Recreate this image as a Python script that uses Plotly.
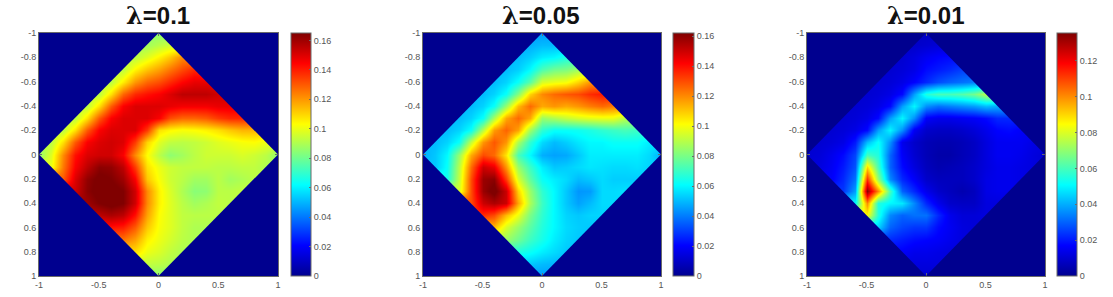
import plotly.graph_objects as go

# Values in thousandths, one list per row of a 0.1 grid inside the diamond |x|+|y|<=1.
# Row k (y = -1 + 0.1 k) runs from x = -(1-|y|) to x = 1-|y|.
grid = [round(-1 + 0.1 * i, 1) for i in range(21)]

titles = ["0.1", "0.05", "0.01"]
zmax = [0.165, 0.162, 0.1356]
cb_ticks = [
    [0, 0.02, 0.04, 0.06, 0.08, 0.1, 0.12, 0.14, 0.16],
    [0, 0.02, 0.04, 0.06, 0.08, 0.1, 0.12, 0.14, 0.16],
    [0, 0.02, 0.04, 0.06, 0.08, 0.1, 0.12],
]
axis_y_ticks = [-1, -0.8, -0.6, -0.4, -0.2, 0, 0.2, 0.4, 0.6, 0.8, 1]
axis_x_ticks = [-1, -0.5, 0, 0.5, 1]

lambda_01 = [
    [85],
    [88, 92, 95],
    [92, 98, 105, 112, 122],
    [92, 104, 112, 118, 125, 132, 138],
    [92, 106, 120, 128, 132, 138, 144, 148, 148],
    [92, 108, 128, 138, 142, 145, 150, 155, 155, 155, 152],
    [92, 108, 130, 145, 150, 150, 150, 148, 146, 146, 146, 148, 148],
    [92, 108, 130, 145, 150, 150, 150, 145, 132, 128, 128, 130, 135, 138, 138],
    [92, 108, 130, 145, 150, 150, 150, 135, 108, 104, 102, 103, 105, 108, 112, 115, 115],
    [92, 108, 130, 145, 150, 152, 150, 135, 110, 98, 93, 92, 93, 95, 98, 100, 102, 103, 100],
    [85, 98, 122, 142, 150, 152, 152, 145, 122, 103, 92, 85, 88, 92, 95, 95, 95, 97, 95, 92, 85],
    [100, 125, 145, 155, 163, 162, 155, 135, 108, 100, 95, 93, 93, 93, 92, 92, 93, 93, 90],
    [130, 150, 162, 167, 165, 160, 145, 112, 102, 95, 92, 88, 88, 92, 88, 90, 92],
    [152, 163, 168, 168, 165, 152, 122, 105, 97, 90, 84, 85, 92, 92, 93],
    [160, 165, 168, 165, 152, 122, 105, 98, 92, 88, 90, 93, 92],
    [155, 158, 155, 142, 118, 103, 98, 93, 92, 92, 92],
    [142, 140, 130, 112, 102, 98, 93, 90, 90],
    [125, 118, 105, 100, 96, 92, 90],
    [108, 100, 97, 93, 90],
    [93, 92, 90],
    [85],
]
lambda_005 = [
    [45],
    [48, 50, 50],
    [50, 53, 58, 60, 65],
    [50, 53, 60, 72, 78, 80, 85],
    [50, 54, 62, 75, 95, 98, 100, 108, 118],
    [50, 54, 62, 82, 108, 120, 125, 128, 130, 135, 138],
    [50, 54, 62, 85, 112, 125, 115, 118, 115, 118, 122, 125, 122],
    [50, 54, 62, 88, 115, 125, 115, 85, 88, 92, 95, 97, 98, 98, 90],
    [50, 54, 62, 90, 117, 126, 116, 86, 68, 62, 62, 63, 65, 68, 70, 72, 70],
    [50, 54, 62, 92, 118, 128, 118, 88, 68, 55, 50, 53, 57, 60, 60, 62, 62, 62, 58],
    [48, 52, 60, 85, 115, 130, 125, 105, 72, 60, 48, 46, 47, 52, 58, 58, 58, 58, 58, 55, 48],
    [52, 62, 90, 125, 150, 145, 118, 85, 70, 58, 52, 53, 55, 57, 56, 55, 55, 56, 54],
    [64, 92, 130, 158, 160, 132, 95, 76, 62, 58, 55, 50, 52, 55, 53, 53, 53],
    [95, 130, 158, 165, 150, 108, 85, 68, 60, 52, 44, 45, 55, 55, 56],
    [130, 150, 155, 150, 115, 88, 70, 60, 52, 46, 50, 55, 55],
    [135, 130, 112, 98, 80, 68, 60, 54, 52, 54, 54],
    [112, 95, 85, 75, 66, 60, 55, 53, 52],
    [85, 78, 70, 64, 58, 54, 52],
    [65, 62, 58, 55, 52],
    [52, 50, 49],
    [45],
]
lambda_001 = [
    [8],
    [9, 10, 11],
    [10, 12, 15, 17, 18],
    [10, 11, 13, 18, 20, 22, 25],
    [10, 11, 13, 17, 22, 27, 30, 32, 34],
    [10, 11, 13, 18, 38, 55, 60, 60, 62, 66, 75],
    [10, 11, 13, 18, 38, 50, 36, 32, 34, 36, 38, 42, 40],
    [10, 11, 13, 18, 38, 50, 36, 16, 14, 14, 15, 16, 18, 22, 22],
    [10, 11, 13, 18, 38, 50, 36, 15, 9, 8, 8, 9, 11, 14, 17, 18, 16],
    [10, 11, 13, 20, 42, 52, 36, 14, 9, 6, 5, 5, 6, 8, 12, 15, 15, 15, 13],
    [10, 11, 14, 18, 26, 60, 55, 30, 16, 10, 6, 4, 4, 6, 8, 12, 15, 15, 14, 12, 10],
    [12, 15, 20, 28, 90, 60, 30, 18, 12, 7, 5, 6, 7, 9, 12, 14, 14, 13, 12],
    [16, 22, 32, 112, 70, 35, 22, 16, 9, 7, 7, 7, 9, 13, 14, 14, 13],
    [24, 38, 134, 100, 60, 30, 22, 14, 9, 7, 5, 7, 13, 14, 14],
    [50, 100, 55, 50, 48, 35, 22, 14, 9, 8, 8, 12, 12],
    [85, 55, 35, 30, 32, 32, 22, 14, 11, 11, 12],
    [45, 30, 26, 24, 24, 18, 15, 12, 11],
    [22, 20, 18, 17, 16, 14, 12],
    [16, 14, 14, 13, 12],
    [12, 12, 12],
    [10],
]
panels = [lambda_01, lambda_005, lambda_001]

# Pixel boxes of the three panels and colour bars
W, H = 1113, 297
plot_px = [(39, 278), (423, 661), (807, 1045)]
cbar_px = [(291, 311), (673, 694), (1057, 1077)]
top_px, bottom_px = 33, 276
title_cx = [158, 541, 926]

JET = [
    [0.0, "#00008F"], [0.125, "#0000FF"], [0.375, "#00FFFF"],
    [0.625, "#FFFF00"], [0.875, "#FF0000"], [1.0, "#800000"],
]
GREY = "#555555"
FRAME = "#6a6a6a"


def full_matrix(rows):
    """Place the diamond rows on the square grid; outside cells repeat the row's edge
    value (they are hidden by the corner masks) so the smoothing keeps a clean edge."""
    out = []
    for row in rows:
        pad = (len(grid) - len(row)) // 2
        out.append([v / 1000 for v in [row[0]] * pad + row + [row[-1]] * pad])
    return out


fig = go.Figure()
for i, rows in enumerate(panels):
    suffix = "" if i == 0 else str(i + 1)
    fig.add_trace(go.Heatmap(
        x=grid, y=grid, z=full_matrix(rows),
        xaxis="x" + suffix, yaxis="y" + suffix,
        zmin=0, zmax=zmax[i], zsmooth="best", colorscale=JET,
        colorbar=dict(
            x=cbar_px[i][0] / W, xanchor="left", xpad=0,
            thickness=cbar_px[i][1] - cbar_px[i][0], thicknessmode="pixels",
            y=1 - top_px / H, yanchor="top", ypad=0,
            len=(bottom_px - top_px) / H, lenmode="fraction",
            outlinecolor=FRAME, outlinewidth=1, borderwidth=0,
            tickmode="array", tickvals=cb_ticks[i],
            ticktext=[f"{t:g}" for t in cb_ticks[i]],
            ticks="inside", ticklen=2, tickcolor=FRAME, tickwidth=1,
            tickfont=dict(family="Liberation Sans", size=9, color=GREY),
        ),
    ))
    axis_common = dict(
        showgrid=False, zeroline=False, showline=True, linecolor=FRAME, linewidth=1,
        mirror="ticks", ticks="inside", ticklen=3, tickcolor=FRAME, tickwidth=1,
        tickfont=dict(family="Liberation Sans", size=9, color=GREY), tickmode="array",
    )
    fig.update_layout(**{
        "xaxis" + suffix: dict(
            axis_common, domain=[plot_px[i][0] / W, plot_px[i][1] / W], range=[-1, 1],
            anchor="y" + suffix, tickvals=axis_x_ticks,
            ticktext=[f"{t:g}" for t in axis_x_ticks],
        ),
        "yaxis" + suffix: dict(
            axis_common, domain=[1 - bottom_px / H, 1 - top_px / H], range=[1, -1],
            anchor="x" + suffix, tickvals=axis_y_ticks,
            ticktext=[f"{t:g}" for t in axis_y_ticks],
        ),
    })
    for sx, sy in [(-1, -1), (1, -1), (-1, 1), (1, 1)]:
        fig.add_shape(
            type="path", path=f"M {sx} {sy} L 0 {sy} L {sx} 0 Z", layer="above",
            xref="x" + suffix, yref="y" + suffix,
            fillcolor="#00008F", line=dict(width=0),
        )
    fig.add_annotation(
        xref="paper", yref="paper", x=title_cx[i] / W, y=1,
        xanchor="center", yanchor="top", showarrow=False, borderpad=0,
        text=f'<b><span style="font-family:\'DejaVu Serif\'">λ</span>={titles[i]}</b>',
        font=dict(family="Liberation Sans", size=24, color="#111111"),
    )

fig.update_layout(
    width=W, height=H, margin=dict(l=0, r=0, t=0, b=0, autoexpand=False),
    paper_bgcolor="white", plot_bgcolor="white", showlegend=False,
)
fig.write_html("out.html", config={"displayModeBar": False},
               post_script="document.body.style.margin='0';")
